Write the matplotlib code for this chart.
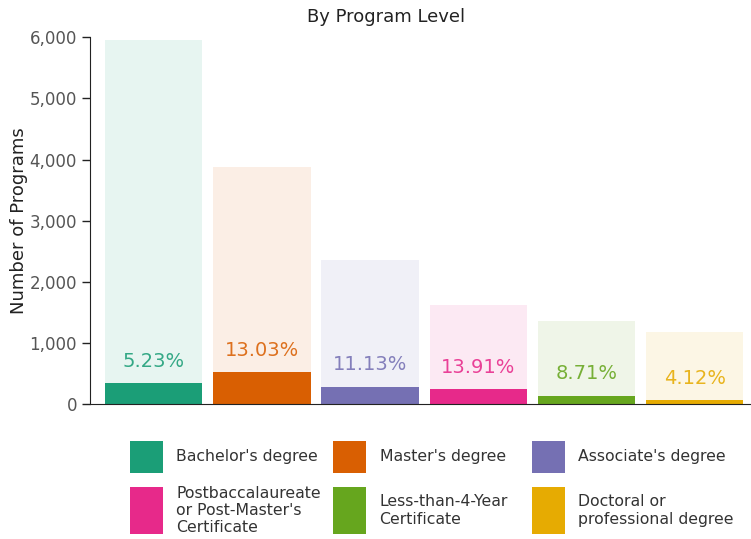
import numpy as np
import matplotlib.pyplot as plt
from matplotlib.patches import Rectangle

plt.rcParams['font.family'] = ['DejaVu Sans']

# data
levels = ["Bachelor's degree", "Master's degree", "Associate's degree",
          "Postbaccalaureate\nor Post-Master's\nCertificate",
          "Less-than-4-Year\nCertificate", "Doctoral or\nprofessional degree"]
totals = [5960, 3870, 2360, 1615, 1360, 1180]
subset = [338, 519, 285, 240, 136, 58]
pct_labels = ["5.23%", "13.03%", "11.13%", "13.91%", "8.71%", "4.12%"]
colors = ["#1b9e77", "#d95f02", "#7570b3", "#e7298a", "#66a61e", "#e6ab02"]

fig = plt.figure(figsize=(7.51, 5.39), dpi=100)
ax = fig.add_axes([0.1202, 0.2505, 0.8798, 0.6803])

x = np.arange(len(levels))
ax.bar(x, totals, width=0.9, color=colors, alpha=0.1, linewidth=0)
ax.bar(x, subset, width=0.9, color=colors, linewidth=0)
for xi, s, lab, c in zip(x, subset, pct_labels, colors):
    ax.annotate(lab, (xi, s), xytext=(0, 9), textcoords='offset points',
                ha='center', va='bottom', color=c, fontsize=14, alpha=0.88)

ax.set_xlim(-0.587, 5.52)
ax.set_ylim(0, 6000)
ax.set_yticks(range(0, 6001, 1000))
ax.set_yticklabels([f"{v:,}" for v in range(0, 6001, 1000)])
ax.set_xticks([])
ax.tick_params(axis='y', colors='#222', labelcolor='#555', labelsize=12, length=6, width=1)
for side in ['top', 'right']:
    ax.spines[side].set_visible(False)
ax.spines['left'].set_color('#222')
ax.spines['bottom'].set_color('#222')
ax.set_ylabel("Number of Programs", fontsize=13, color='#222', labelpad=1)

fig.text(0.514, 0.969, "By Program Level", ha='center', va='center', fontsize=13, color='#222')

# legend drawn by hand, 3 columns x 2 rows
W, H = 751, 539
col_x = [130, 333, 532]
rows = [(441, 473), (487, 534)]
for i, (lab, c) in enumerate(zip(levels, colors)):
    r, k = divmod(i, 3)
    y0, y1 = rows[r]
    fig.add_artist(Rectangle((col_x[k] / W, 1 - y1 / H), 33 / W, (y1 - y0) / H,
                             transform=fig.transFigure, color=c, linewidth=0))
    fig.text((col_x[k] + 46.5) / W, 1 - (y0 + y1) / 2 / H, lab, ha='left', va='center',
             fontsize=11.3, color='#333', linespacing=1.2)

fig.savefig("out.png", dpi=100)
